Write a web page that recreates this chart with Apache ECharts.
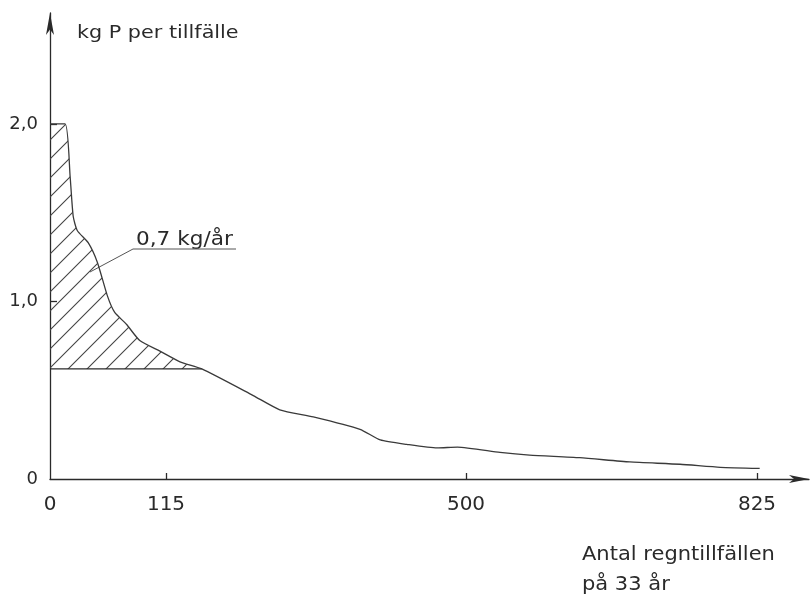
<!DOCTYPE html>
<html>
<head>
<meta charset="utf-8">
<script src="https://cdn.jsdelivr.net/npm/echarts@6/dist/echarts.min.js"></script>
<style>
  html, body { margin: 0; padding: 0; background: #fff; }
  #chart { width: 811px; height: 596px; }
</style>
</head>
<body>
<div id="chart"></div>
<script>
// antal regntillfällen (rangordnade) och kg P per tillfälle
const events = [0, 15, 20, 23, 27, 38, 47, 57, 64, 76, 89, 109, 133, 161,
  227, 261, 304, 364, 390, 424, 463, 489, 538, 571, 627, 683, 739, 784, 828];
const kgP = [2.0, 2.0, 1.70, 1.48, 1.40, 1.33, 1.22, 1.03, 0.94, 0.87, 0.78, 0.72, 0.66, 0.62,
  0.47, 0.39, 0.35, 0.28, 0.22, 0.195, 0.175, 0.18, 0.15, 0.135, 0.12, 0.096, 0.083, 0.066, 0.06];

// skrafferad yta ovanför denna nivå (0,7 kg/år)
const hatchLevel = 0.62;

// x-axelns graderingar; figurens skala är inte linjär mellan dem
const xTickValues = [0, 115, 500, 825];
const xTickUnits = [0, 116, 416, 707];

const yTickValues = [0, 1, 2];
const yTickLabels = ['0', '1,0', '2,0'];

// antal tillfällen -> axelenheter (styckvis linjärt mellan graderingarna)
function warp(n) {
    let i = 0;
    while (i < xTickValues.length - 2 && n > xTickValues[i + 1]) i++;
    const t = (n - xTickValues[i]) / (xTickValues[i + 1] - xTickValues[i]);
    return xTickUnits[i] + t * (xTickUnits[i + 1] - xTickUnits[i]);
}

const curve = events.map((n, i) => [warp(n), kgP[i]]);
const hatchEnd = events.indexOf(161);
const hatchPart = curve.slice(0, hatchEnd + 1);
const levelLine = [[0, hatchLevel], [warp(events[hatchEnd]), hatchLevel]];

// snedstreck-mönster för skrafferingen
function hatchPattern() {
    const s = 19;
    const c = document.createElement('canvas');
    c.width = s; c.height = s;
    const ctx = c.getContext('2d');
    ctx.strokeStyle = '#444';
    ctx.lineWidth = 1.1;
    ctx.beginPath();
    ctx.moveTo(0, s); ctx.lineTo(s, 0);
    ctx.moveTo(-2, 2); ctx.lineTo(2, -2);
    ctx.moveTo(s - 2, s + 2); ctx.lineTo(s + 2, s - 2);
    ctx.stroke();
    return c;
}

const font = '"DejaVu Sans", sans-serif';
const ink = '#2a2a2a';

function label(text, x, y, size, sx, extra) {
    return {
        type: 'text',
        x: x, y: y,
        scaleX: sx,
        style: Object.assign({
            text: text,
            fill: ink,
            font: size + 'px ' + font,
            align: 'left',
            verticalAlign: 'top'
        }, extra || {})
    };
}

let chart = echarts.init(document.getElementById('chart'), null, {renderer: 'canvas'});
chart.setOption({
    backgroundColor: '#fff',
    animation: false,
    grid: {left: 50, right: 2, top: 13, bottom: 117},
    xAxis: {
        type: 'value',
        min: 0,
        max: 759,
        axisLine: {
            lineStyle: {color: ink, width: 1.3},
            symbol: ['none', 'arrow'],
            symbolSize: [6, 20]
        },
        axisTick: {
            inside: true,
            length: 6,
            customValues: xTickUnits.slice(1),
            lineStyle: {color: ink, width: 1.3}
        },
        axisLabel: {
            customValues: xTickUnits,
            margin: 16,
            color: ink,
            fontFamily: font,
            fontSize: 20,
            formatter: v => String(xTickValues[xTickUnits.indexOf(v)])
        },
        splitLine: {show: false}
    },
    yAxis: {
        type: 'value',
        min: 0,
        max: 2.625,
        axisLine: {
            lineStyle: {color: ink, width: 1.3},
            symbol: ['none', 'arrow'],
            symbolSize: [6, 22]
        },
        axisTick: {
            inside: true,
            length: 7,
            customValues: yTickValues.slice(1),
            lineStyle: {color: ink, width: 1.3}
        },
        axisLabel: {
            customValues: yTickValues,
            margin: 12,
            color: ink,
            fontFamily: font,
            fontSize: 18,
            formatter: v => yTickLabels[yTickValues.indexOf(v)]
        },
        splitLine: {show: false}
    },
    series: [
        {
            name: 'skraffering',
            type: 'line',
            data: hatchPart,
            showSymbol: false,
            smooth: 0.2,
            lineStyle: {width: 0},
            areaStyle: {
                origin: hatchLevel,
                opacity: 1,
                color: {image: hatchPattern(), repeat: 'repeat'}
            },
            z: 1
        },
        {
            name: 'nivå',
            type: 'line',
            data: levelLine,
            showSymbol: false,
            lineStyle: {color: ink, width: 1.3},
            z: 2
        },
        {
            name: 'kg P per tillfälle',
            type: 'line',
            data: curve,
            showSymbol: false,
            smooth: 0.2,
            lineStyle: {color: '#3a3a3a', width: 1.3},
            z: 3
        }
    ],
    graphic: [
        label('kg P per tillfälle', 77, 25, 17, 1.22),
        label('Antal regntillfällen\npå 33 år', 582, 540, 20, 1.05, {lineHeight: 30}),
        label('0,7 kg/år', 136, 230, 20, 1.08),
        {
            type: 'polyline',
            shape: {points: [[90, 272], [133, 249], [236, 249]]},
            style: {stroke: '#555', lineWidth: 1, fill: null}
        }
    ]
});
</script>
</body>
</html>
